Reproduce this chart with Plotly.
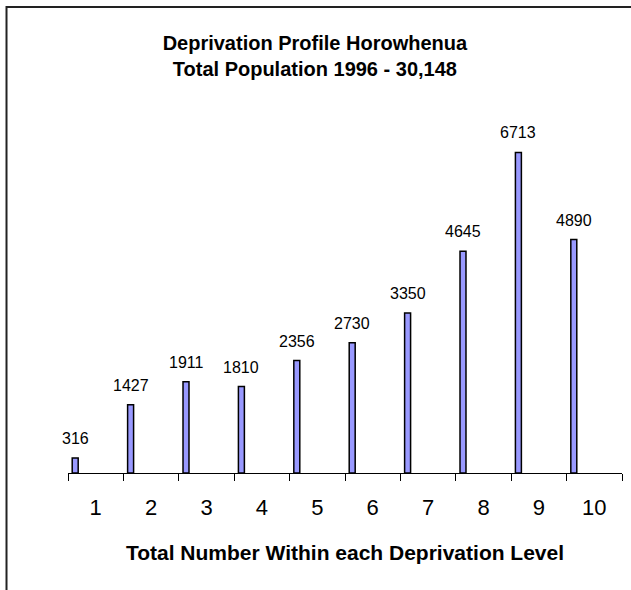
#!/usr/bin/env python
# coding: utf-8

import plotly.graph_objs as go

# deprivation levels and the population in each
levels = ['1', '2', '3', '4', '5', '6', '7', '8', '9', '10']
population = [316, 1427, 1911, 1810, 2356, 2730, 3350, 4645, 6713, 4890]

title_lines = ['Deprivation Profile Horowhenua', 'Total Population 1996 - 30,148']
x_title = 'Total Number Within each Deprivation Level'

FONT = 'Liberation Sans, Arial, sans-serif'
BAR_FILL = '#9999FF'

# bars sit at the left side of each category, like the excel original
BAR_OFFSET = -0.424
BAR_WIDTH = 0.108

fig = go.Figure()

fig.add_trace(go.Bar(
    x=levels,
    y=population,
    offset=BAR_OFFSET,
    width=BAR_WIDTH,
    marker=dict(color=BAR_FILL, line=dict(color='black', width=1.5)),
    showlegend=False,
    hoverinfo='x+y',
))

# value labels above each bar (category axis -> annotation x is the index)
for idx, value in enumerate(population):
    fig.add_annotation(
        x=idx, y=value,
        text=str(value),
        showarrow=False,
        xanchor='center', yanchor='bottom',
        xshift=-20.5, yshift=9,
        font=dict(family=FONT, size=16, color='black'),
    )

# frame around the chart area (right and bottom edges fall outside the view)
fig.add_shape(
    type='rect', xref='paper', yref='paper',
    x0=-0.111, x1=1.2, y0=-0.5, y1=1.22,
    line=dict(color='#222222', width=2),
    layer='below',
)

fig.update_layout(
    width=631,
    height=590,
    margin=dict(l=68, r=9, t=91, b=117),
    paper_bgcolor='white',
    plot_bgcolor='white',
    font=dict(family=FONT, color='black'),
    title=dict(
        text='<b>' + '<br>'.join(title_lines) + '</b>',
        x=0.499, xanchor='center',
        y=1 - 50 / 590, yanchor='top',
        yref='container',
        font=dict(family=FONT, size=20, color='black'),
    ),
    xaxis=dict(
        type='category',
        categoryorder='array',
        categoryarray=levels,
        range=[-0.5, 9.5],
        showline=True,
        linecolor='black',
        linewidth=1,
        ticks='outside',
        tickson='boundaries',
        ticklen=7,
        tickcolor='black',
        ticklabelstandoff=15,
        tickfont=dict(family=FONT, size=22, color='black'),
        showgrid=False,
        zeroline=False,
        title=dict(
            text='<b>' + x_title + '</b>',
            standoff=25,
            font=dict(family=FONT, size=21, color='black'),
        ),
    ),
    yaxis=dict(
        range=[0, 8000],
        visible=False,
        showgrid=False,
        zeroline=False,
    ),
)

# drop the browser's default body margin so the figure sits at the page corner
fig.write_html(
    "out.html",
    config=dict(displayModeBar=False),
    post_script="document.body.style.margin = '0';",
)
